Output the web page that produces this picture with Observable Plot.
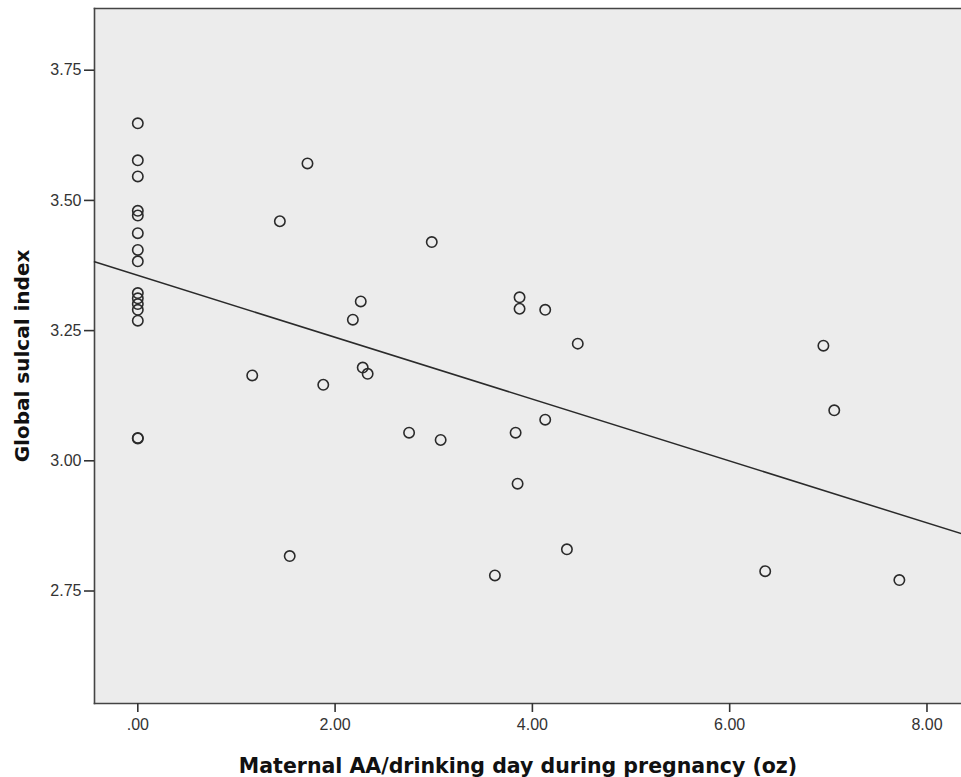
<!DOCTYPE html>
<html>
<head>
<meta charset="utf-8">
<script src="https://cdn.jsdelivr.net/npm/d3@7"></script>
<script src="https://cdn.jsdelivr.net/npm/@observablehq/plot@0.6"></script>
<style>
  html, body { margin: 0; padding: 0; background: #fff; }
  #chart svg { display: block; }
</style>
</head>
<body>
<div id="chart"></div>
<script>
// Maternal AA/drinking day during pregnancy (oz)
const drinkOz = [
  0, 0, 0, 0, 0, 0, 0, 0, 0, 0, 0, 0, 0, 0, 0,
  1.72, 1.44, 2.98, 2.26, 2.18, 1.16, 1.88, 2.28, 2.33,
  3.87, 3.87, 4.13, 4.46, 4.13, 3.83, 3.85,
  2.75, 3.07, 1.54, 4.35, 3.62,
  6.95, 7.06, 6.36, 7.72
];
// Global sulcal index
const sulcalIndex = [
  3.648, 3.577, 3.546, 3.480, 3.471, 3.437, 3.405, 3.383, 3.322, 3.312, 3.301, 3.290, 3.269, 3.044, 3.043,
  3.571, 3.460, 3.420, 3.306, 3.271, 3.164, 3.146, 3.179, 3.167,
  3.314, 3.292, 3.290, 3.225, 3.079, 3.054, 2.956,
  3.054, 3.040, 2.817, 2.830, 2.780,
  3.221, 3.097, 2.788, 2.771
];
// Linear fit line
const fitIntercept = 3.356;
const fitSlope = -0.0594;

const xTicks = [0, 2, 4, 6, 8];
const yTicks = [2.75, 3.00, 3.25, 3.50, 3.75];
const xDomain = [-0.439, 8.35];
const yDomain = [2.534, 3.8685];

const points = drinkOz.map((x, i) => ({x, y: sulcalIndex[i]}));
const fitLine = xDomain.map(x => ({x, y: fitIntercept + fitSlope * x}));

const ink = "#2a2a2a";
const chart = Plot.plot({
  width: 961,
  height: 777,
  marginLeft: 94,
  marginRight: 0,
  marginTop: 8,
  marginBottom: 74,
  style: {fontFamily: "'Liberation Sans', Arial, sans-serif", fontSize: "16px", color: "#333", background: "#fff"},
  x: {domain: xDomain},
  y: {domain: yDomain},
  marks: [
    Plot.frame({fill: "#ececec", stroke: "none"}),
    Plot.frame({anchor: "top", stroke: "#444", strokeWidth: 1.6}),
    Plot.frame({anchor: "left", stroke: "#444", strokeWidth: 1.6}),
    Plot.frame({anchor: "bottom", stroke: "#444", strokeWidth: 1.6}),
    Plot.axisY({ticks: yTicks, tickFormat: d => d.toFixed(2), tickSize: 10, tickPadding: 3, label: null, stroke: "#333", strokeWidth: 1.6}),
    Plot.axisX({ticks: xTicks, tickFormat: d => d === 0 ? ".00" : d.toFixed(2), tickSize: 9, tickPadding: 6, label: null, stroke: "#333", strokeWidth: 1.6}),
    Plot.line(fitLine, {x: "x", y: "y", stroke: ink, strokeWidth: 1.5}),
    Plot.dot(points, {x: "x", y: "y", r: 5.2, stroke: ink, strokeWidth: 1.6, fill: "none"}),
    Plot.text(["Maternal AA/drinking day during pregnancy (oz)"], {
      frameAnchor: "bottom", textAnchor: "middle", dx: -10, dy: 69, lineAnchor: "bottom",
      fontFamily: "'DejaVu Sans', Verdana, sans-serif", fontWeight: "bold", fontSize: 20.5, fill: "#111"
    }),
    Plot.text(["Global sulcal index"], {
      frameAnchor: "left", textAnchor: "middle", dx: -72, rotate: -90,
      fontFamily: "'DejaVu Sans', Verdana, sans-serif", fontWeight: "bold", fontSize: 20, fill: "#111"
    })
  ]
});
document.getElementById("chart").appendChild(chart);
</script>
</body>
</html>
